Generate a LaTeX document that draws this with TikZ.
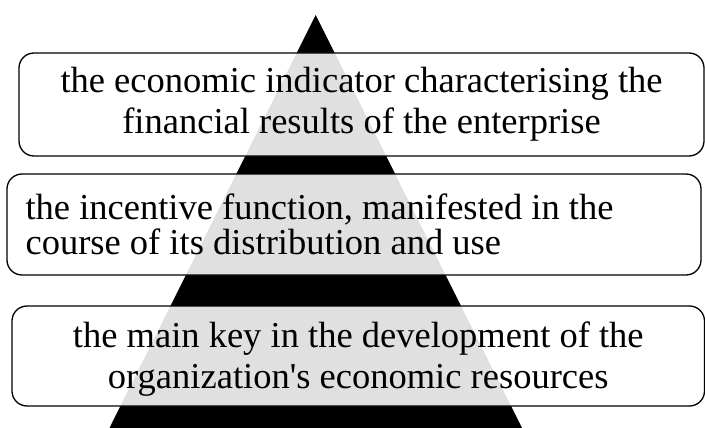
\documentclass[tikz,border=0pt]{standalone}
\usepackage{fontspec}
\setmainfont{Liberation Serif}[Ligatures=TeXOff]
\begin{document}
\begin{tikzpicture}[x=1pt,y=-1pt,
  boxstyle/.style={draw=black, line width=1.3pt, rounded corners=15pt,
    fill=white, fill opacity=0.88, text opacity=1, inner sep=0pt,
    font=\fontsize{36.5}{41}\selectfont}]
\useasboundingbox (0,0) rectangle (705,428);
\begin{scope}
\clip (0,0) rectangle (705,428);
\fill[black] (109.5,428) -- (315.7,15) -- (522,428) -- cycle;
\end{scope}
\node[boxstyle, minimum width=685pt, minimum height=103pt, align=center] (b1) at (361.5,104.5)
  {the economic indicator characterising the\\financial results of the enterprise};
\node[boxstyle, minimum width=694pt, minimum height=101pt] (b2) at (354,224.5) {};
\node[anchor=west, inner sep=0pt, align=left, font=\fontsize{36.5}{35}\selectfont]
  (t2) at ([xshift=19pt]b2.west)
  {the incentive function, manifested in the\\course of its distribution and use};
\node[boxstyle, minimum width=692.5pt, minimum height=100pt, align=center] (b3) at (358.25,356)
  {\rule{0pt}{31pt}the main key in the development of the\\organization's economic resources};
\end{tikzpicture}
\end{document}
